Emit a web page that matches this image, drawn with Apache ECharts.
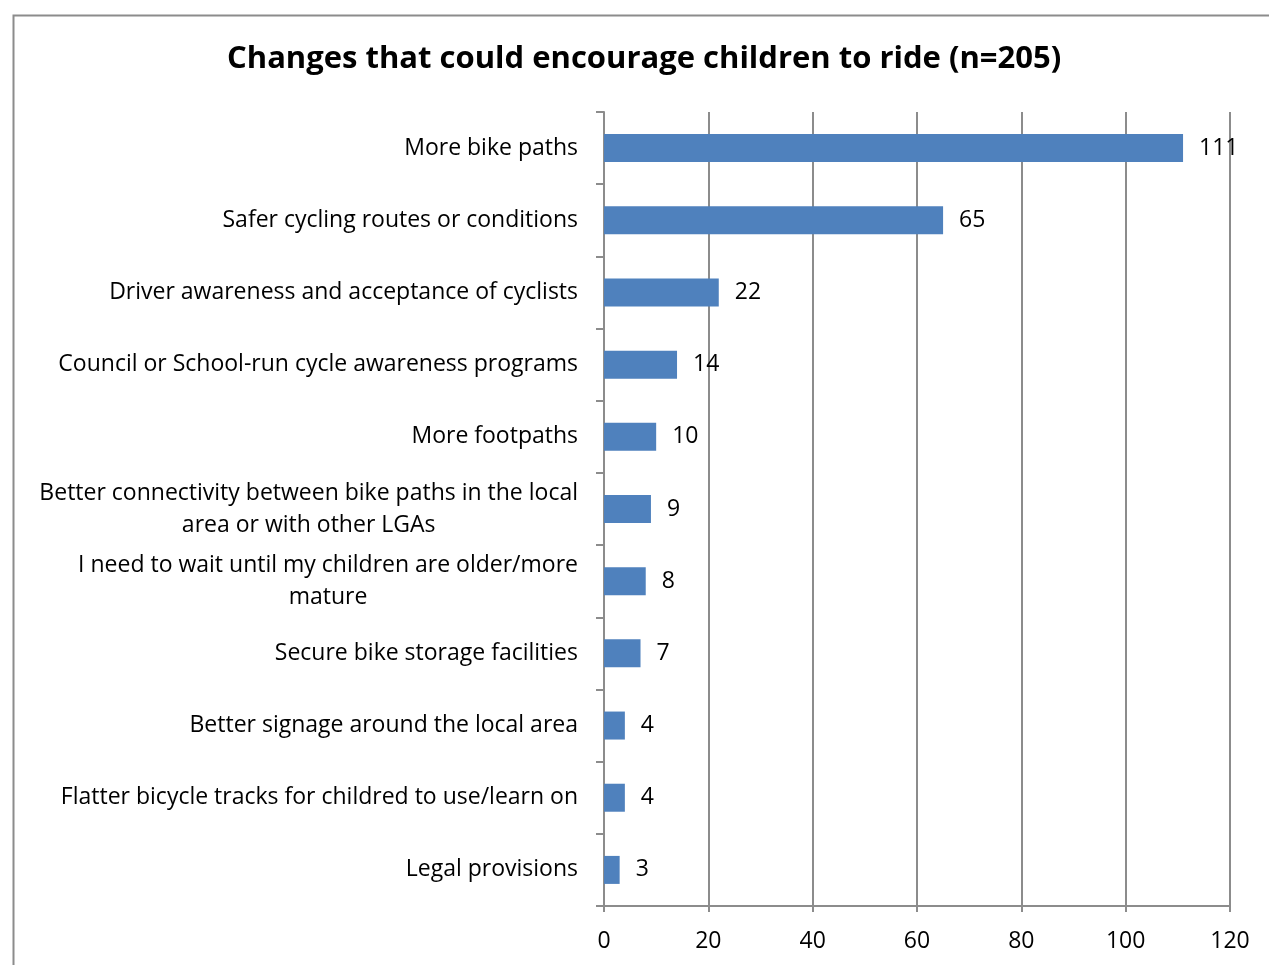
<!DOCTYPE html>
<html><head><meta charset="utf-8">
<script src="https://cdn.jsdelivr.net/npm/echarts@6/dist/echarts.min.js"></script>
<style>html,body{margin:0;padding:0;background:#fff}#c{width:1269px;height:965px}</style>
</head><body><div id="c"></div>
<script>
const categories = [
  'More bike paths',
  'Safer cycling routes or conditions',
  'Driver awareness and acceptance of cyclists',
  'Council or School-run cycle awareness programs',
  'More footpaths',
  'Better connectivity between bike paths in the local\narea or with other LGAs',
  'I need to wait until my children are older/more\nmature',
  'Secure bike storage facilities',
  'Better signage around the local area',
  'Flatter bicycle tracks for childred to use/learn on',
  'Legal provisions'
];
const values = [111, 65, 22, 14, 10, 9, 8, 7, 4, 4, 3];
const xTicks = { min: 0, max: 120, interval: 20 };
const titleText = 'Changes that could encourage children to ride (n=205)';

const font = '"Open Sans", Lato, sans-serif';
const fs = 23;
const chart = echarts.init(document.getElementById('c'));
chart.setOption({
  animation: false,
  backgroundColor: '#fff',
  title: {
    text: titleText, left: 222, top: 39,
    textStyle: { fontFamily: font, fontWeight: 'bold', fontSize: 31, color: '#000' }
  },
  graphic: [{
    type: 'rect', left: 11, top: 13, z: -1,
    shape: { width: 1400, height: 1100 },
    style: { fill: 'none', stroke: '#8c8c8c', lineWidth: 2 }
  }],
  grid: { left: 604, right: 39, top: 112, bottom: 59, containLabel: false },
  xAxis: {
    type: 'value', min: xTicks.min, max: xTicks.max, interval: xTicks.interval,
    axisLine: { show: true, lineStyle: { color: '#8c8c8c', width: 2 } },
    axisTick: { show: true, length: 6, lineStyle: { color: '#8c8c8c', width: 2 } },
    splitLine: { show: true, lineStyle: { color: '#8c8c8c', width: 2 } },
    axisLabel: { fontFamily: font, fontSize: fs, color: '#000', margin: 24 }
  },
  yAxis: {
    type: 'category', data: categories, inverse: true,
    axisLine: { show: true, lineStyle: { color: '#8c8c8c', width: 2 } },
    axisTick: { show: true, length: 8, lineStyle: { color: '#8c8c8c', width: 2 } },
    axisLabel: {
      fontFamily: font, fontSize: fs, color: '#000', margin: 26, lineHeight: 32,
      formatter: v => v.split('\n').map(s => '{c|' + s + '}').join('\n'),
      rich: { c: { align: 'center', fontFamily: font, fontSize: fs, lineHeight: 32, color: '#000' } }
    }
  },
  series: [{
    type: 'bar', data: values, barWidth: 28,
    itemStyle: { color: '#4F81BD' },
    label: { show: true, position: 'right', distance: 16, fontFamily: font, fontSize: fs, color: '#000' }
  }]
});
</script></body></html>
